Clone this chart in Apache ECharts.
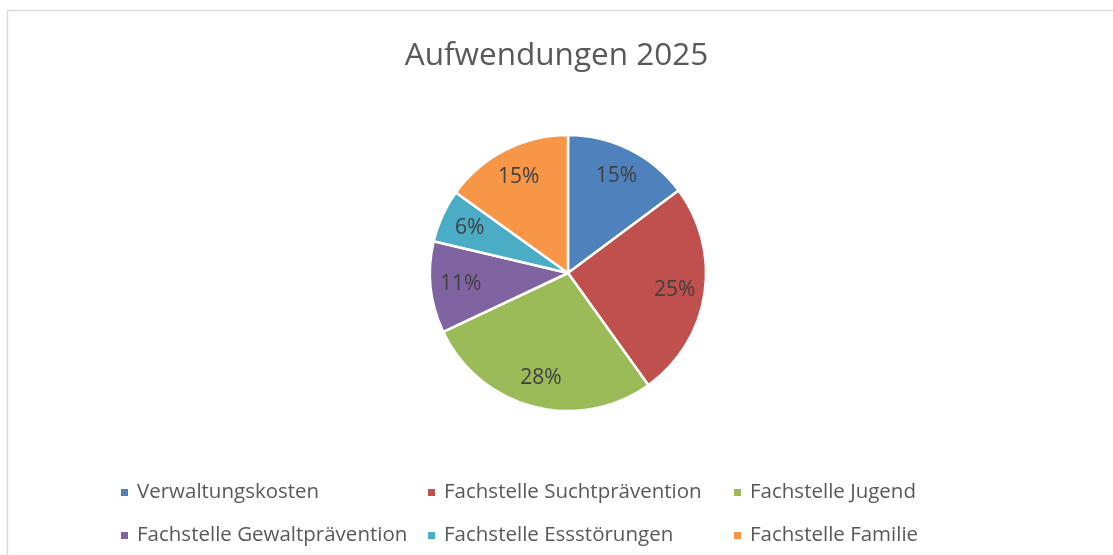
<!DOCTYPE html>
<html>
<head>
<meta charset="utf-8">
<script src="https://cdn.jsdelivr.net/npm/echarts@6/dist/echarts.min.js"></script>
<style>
  html, body { margin: 0; padding: 0; background: #fff; }
</style>
</head>
<body>
<div id="main" style="width:1113px;height:555px"></div>
<script>
var chartTitle = "Aufwendungen 2025";
var categories = [
  "Verwaltungskosten",
  "Fachstelle Suchtprävention",
  "Fachstelle Jugend",
  "Fachstelle Gewaltprävention",
  "Fachstelle Essstörungen",
  "Fachstelle Familie"
];
var shares = [14.8, 25.3, 27.9, 10.7, 6.2, 15.1];
var colors = ["#4F81BD", "#C0504D", "#9BBB59", "#8064A2", "#4BACC6", "#F79646"];

var pieData = categories.map(function (name, i) {
  return { name: name, value: shares[i] };
});

var chartDom = document.getElementById("main");
var myChart = echarts.init(chartDom);
var font = "Open Sans";

// three legend columns, two rows each
var legendLefts = [114, 421, 727];
var legends = legendLefts.map(function (left, c) {
  return {
    orient: "vertical",
    left: left,
    top: 477,
    itemWidth: 9,
    itemHeight: 9,
    itemGap: 22,
    icon: "rect",
    data: [categories[c], categories[c + 3]],
    textStyle: { fontFamily: font, fontSize: 20.5, color: "#595959", padding: [0, 0, 0, 3] },
    selectedMode: false
  };
});

var option = {
  color: colors,
  animation: false,
  title: {
    text: chartTitle,
    left: "center",
    top: 35,
    textStyle: { fontFamily: font, fontSize: 31.5, fontWeight: "normal", color: "#595959" }
  },
  legend: legends,
  graphic: [{
    type: "rect",
    shape: { x: 7.5, y: 10.5, width: 1200, height: 700 },
    style: { fill: "none", stroke: "#d9d9d9", lineWidth: 1.5 },
    silent: true
  }],
  series: [
    {
      type: "pie",
      center: [568, 273],
      radius: [0, 138],
      startAngle: 90,
      clockwise: true,
      label: { show: false },
      labelLine: { show: false },
      itemStyle: { borderColor: "#fff", borderWidth: 2.5 },
      emphasis: { disabled: true },
      data: pieData
    },
    {
      // transparent overlay only to place the percent labels further out
      type: "pie",
      center: [568, 273],
      radius: [72, 138],
      startAngle: 90,
      clockwise: true,
      silent: true,
      legendHoverLink: false,
      itemStyle: { color: "transparent", borderWidth: 0 },
      label: {
        show: true,
        position: "inside",
        fontFamily: font,
        fontSize: 21,
        color: "#404040",
        formatter: function (p) { return Math.round(p.percent) + "%"; }
      },
      labelLine: { show: false },
      emphasis: { disabled: true },
      data: pieData
    }
  ]
};

option && myChart.setOption(option);
</script>
</body>
</html>
